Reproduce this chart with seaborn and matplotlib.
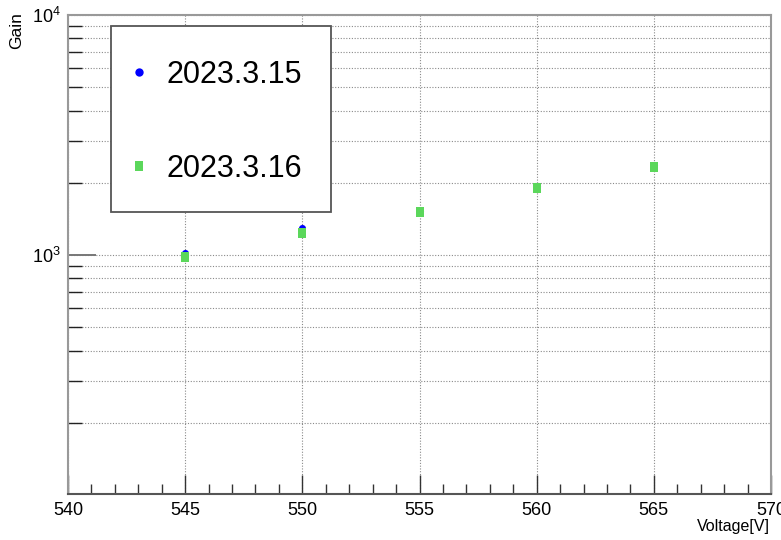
import numpy as np
import pandas as pd
import matplotlib
matplotlib.use("Agg")
import matplotlib.pyplot as plt
import matplotlib.ticker as mticker
from matplotlib.patches import Rectangle
import seaborn as sns

# Measured gain versus bias voltage for two runs
voltage = [545, 550, 555, 560, 565]
gain_0315 = [1019, 1296, 1531, 1939, 2361]
gain_0316 = [980, 1239, 1507, 1901, 2327]
labels = ["2023.3.15", "2023.3.16"]

df_a = pd.DataFrame({"Voltage": voltage, "Gain": gain_0315})
df_b = pd.DataFrame({"Voltage": voltage, "Gain": gain_0316})

sns.set_style("white")
plt.rcParams["font.family"] = ["Liberation Sans", "DejaVu Sans"]
plt.rcParams["mathtext.fontset"] = "custom"
plt.rcParams["mathtext.rm"] = "Liberation Sans"
plt.rcParams["mathtext.it"] = "Liberation Sans"
plt.rcParams["text.color"] = "black"
plt.rcParams["xtick.color"] = "black"
plt.rcParams["ytick.color"] = "black"

W, H = 781, 540
fig = plt.figure(figsize=(W / 100, H / 100), dpi=100)
ax = fig.add_axes([68 / W, 1 - 494 / H, (771 - 68) / W, (494 - 15) / H])

rect = [(-0.38, -0.5), (0.38, -0.5), (0.38, 0.5), (-0.38, 0.5)]
sns.scatterplot(data=df_a, x="Voltage", y="Gain", color="#0000ff", marker="o",
                s=26, linewidth=0, ax=ax, zorder=5)
sns.scatterplot(data=df_b, x="Voltage", y="Gain", color="#5bd75b", marker=rect,
                s=44, linewidth=0, ax=ax, zorder=6)

ax.set_yscale("log")
ax.set_xlim(540, 570)
ax.set_ylim(101, 1e4)

ax.xaxis.set_major_locator(mticker.MultipleLocator(5))
ax.xaxis.set_minor_locator(mticker.MultipleLocator(1))
ax.yaxis.set_major_locator(mticker.LogLocator(base=10, numticks=10))
ax.yaxis.set_minor_locator(mticker.LogLocator(base=10, subs=np.arange(2, 10), numticks=20))
ax.yaxis.set_major_formatter(mticker.FuncFormatter(
    lambda v, p: r"$10^{%d}$" % round(np.log10(v))))
ax.yaxis.set_minor_formatter(mticker.NullFormatter())

ax.tick_params(axis="x", which="major", direction="in", length=14, width=1,
               color="#333333", labelsize=13, pad=6, bottom=True, top=False)
ax.tick_params(axis="x", which="minor", direction="in", length=7, width=1,
               color="#333333", bottom=True, top=False)
ax.tick_params(axis="y", which="major", direction="in", length=20, width=1.4,
               color="#777777", labelsize=13, pad=5, left=True, right=False)
ax.tick_params(axis="y", which="minor", direction="in", length=10, width=1,
               color="#222222", left=True, right=False)

grid_kw = dict(color="#8a8a8a", linestyle=(0, (1, 1.5)), linewidth=0.8)
ax.grid(True, which="major", axis="x", **grid_kw)
ax.grid(True, which="both", axis="y", **grid_kw)
ax.set_axisbelow(True)

for side in ["left", "right", "top"]:
    ax.spines[side].set_color("#999999")
    ax.spines[side].set_linewidth(1.5)
ax.spines["bottom"].set_color("#555555")
ax.spines["bottom"].set_linewidth(1.5)

ax.set_xlabel("")
ax.set_ylabel("")
fig.text(770 / W, 1 - 527 / H, "Voltage[V]", ha="right", va="center", fontsize=11.5)
fig.text(17 / W, 1 - 12 / H, "Gain", ha="center", va="top", rotation=90, fontsize=12.5)

# Legend frame
box = Rectangle((111 / W, 1 - 212 / H), (331 - 111) / W, (212 - 26) / H,
                transform=fig.transFigure, facecolor="white", edgecolor="#555555",
                linewidth=1.3, zorder=9)
ax.add_artist(box)
box.set_clip_on(False)

h1 = plt.Line2D([], [], marker="o", color="#0000ff", linestyle="none", markersize=6,
                markeredgewidth=0)
h2 = plt.Line2D([], [], marker=rect, color="#5bd75b", linestyle="none", markersize=7.5,
                markeredgewidth=0)
leg = ax.legend([h1, h2], labels, loc="upper left",
                bbox_to_anchor=(130 / W, 1 - 60 / H), bbox_transform=fig.transFigure,
                fontsize=22, frameon=False, borderpad=0, labelspacing=2.08,
                handlelength=0.6, handletextpad=0.6, borderaxespad=0)
leg.set_zorder(10)

fig.savefig("out.png", dpi=100)
